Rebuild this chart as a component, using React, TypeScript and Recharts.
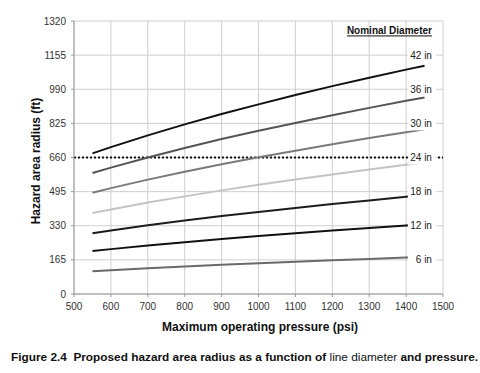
import React from 'react';
import {
  LineChart,
  Line,
  XAxis,
  YAxis,
  CartesianGrid,
  ReferenceLine,
  ReferenceDot,
} from 'recharts';

// Pressure (psi)
const pressures = [550, 600, 700, 800, 900, 1000, 1100, 1200, 1300, 1400, 1450];

// Hazard area radius (ft) per nominal diameter
const d42 = [680, 710, 767, 820, 870, 917, 962, 1005, 1046, 1085, 1104];
const d36 = [585, 611, 660, 706, 749, 789, 827, 864, 900, 934, 950];
const d30 = [490, 512, 553, 591, 627, 661, 693, 724, 754, 782, 796];
const d24 = [392, 409, 442, 472, 501, 528, 554, 578, 602, 625, 636];
const d18 = [294, 307, 332, 355, 377, 397, 416, 435, 452, 470, 478];
const d12 = [208, 217, 234, 250, 266, 280, 294, 307, 319, 331, 337];
const d6 = [110, 115, 124, 133, 141, 149, 156, 163, 169, 176, 179];

const xTicks = [500, 600, 700, 800, 900, 1000, 1100, 1200, 1300, 1400, 1500];
const yTicks = [0, 165, 330, 495, 660, 825, 990, 1155, 1320];

const threshold = 660;

const seriesDefs = [
  { key: 'd42', name: '42 in', values: d42, color: '#111111', labelY: 1155 },
  { key: 'd36', name: '36 in', values: d36, color: '#555555', labelY: 990 },
  { key: 'd30', name: '30 in', values: d30, color: '#7a7a7a', labelY: 825 },
  { key: 'd24', name: '24 in', values: d24, color: '#c4c4c4', labelY: 660 },
  { key: 'd18', name: '18 in', values: d18, color: '#1c1c1c', labelY: 495 },
  { key: 'd12', name: '12 in', values: d12, color: '#111111', labelY: 330 },
  { key: 'd6', name: '6 in', values: d6, color: '#6a6a6a', labelY: 165 },
];

const data = pressures.map((p, i) => {
  const row: Record<string, number> = { p };
  seriesDefs.forEach((s) => {
    row[s.key] = s.values[i];
  });
  return row;
});

const FONT = '"Liberation Sans", Arial, sans-serif';

const DiamLabel = (props: any) => {
  const { viewBox, value } = props;
  const x = viewBox?.x ?? 0;
  const y = viewBox?.y ?? 0;
  return (
    <g>
      <rect x={x - 24} y={y - 7} width={28} height={14} fill="#ffffff" />
      <text
        x={x}
        y={y}
        dy={3.5}
        textAnchor="end"
        fontSize={10}
        fontFamily={FONT}
        fill="#222"
      >
        {value}
      </text>
    </g>
  );
};

const TitleLabel = (props: any) => {
  const { viewBox, value } = props;
  const x = viewBox?.x ?? 0;
  const y = viewBox?.y ?? 0;
  return (
    <text
      x={x}
      y={y}
      dy={3.5}
      textAnchor="end"
      fontSize={10}
      fontWeight="bold"
      fontFamily={FONT}
      fill="#111"
      textDecoration="underline"
      style={{ textDecoration: 'underline' }}
    >
      {value}
    </text>
  );
};

export default function App() {
  return (
    <div
      style={{
        position: 'absolute',
        left: 0,
        top: 0,
        width: 480,
        height: 373,
        background: '#fff',
      }}
    >
      <LineChart
        width={480}
        height={373}
        data={data}
        margin={{ top: 21, right: 37, bottom: 49, left: 0 }}
      >
        <CartesianGrid stroke="#cfcfcf" strokeWidth={1} />
        <XAxis
          dataKey="p"
          type="number"
          domain={[500, 1500]}
          ticks={xTicks}
          height={30}
          stroke="#999"
          tickSize={3}
          tickMargin={6}
          tick={{ fontSize: 10, fill: '#333', fontFamily: FONT }}
          interval={0}
        />
        <YAxis
          type="number"
          domain={[0, 1320]}
          ticks={yTicks}
          width={74}
          stroke="#999"
          tickSize={3}
          tickMargin={5}
          tick={{ fontSize: 10, fill: '#333', fontFamily: FONT }}
          interval={0}
        />
        <ReferenceLine
          y={threshold}
          stroke="#111"
          strokeWidth={2}
          strokeDasharray="2 2"
        />
        {seriesDefs.map((s) => (
          <Line
            key={s.key}
            type="linear"
            dataKey={s.key}
            stroke={s.color}
            strokeWidth={2}
            dot={false}
            isAnimationActive={false}
          />
        ))}
        {seriesDefs.map((s) => (
          <ReferenceDot
            key={'lbl' + s.key}
            x={1470}
            y={s.labelY}
            r={0}
            fill="none"
            stroke="none"
            label={<DiamLabel value={s.name} />}
          />
        ))}
        <ReferenceDot
          x={1470}
          y={1272}
          r={0}
          fill="none"
          stroke="none"
          label={<TitleLabel value="Nominal Diameter" />}
        />
      </LineChart>
      <svg
        width={480}
        height={373}
        style={{ position: 'absolute', left: 0, top: 0, pointerEvents: 'none' }}
      >
        <text
          x={260}
          y={331}
          textAnchor="middle"
          fontSize={12}
          fontWeight="bold"
          fontFamily={FONT}
          fill="#111"
        >
          Maximum operating pressure (psi)
        </text>
        <text
          transform="translate(40,161) rotate(-90)"
          textAnchor="middle"
          fontSize={12}
          fontWeight="bold"
          fontFamily={FONT}
          fill="#111"
        >
          Hazard area radius (ft)
        </text>
        <text
          x={11}
          y={361}
          fontSize={11.5}
          fontFamily={FONT}
          fill="#111"
          textLength={467}
          lengthAdjust="spacingAndGlyphs"
        >
          <tspan fontWeight="bold">{'Figure 2.4\u00a0\u00a0Proposed hazard area radius as a function of '}</tspan>
          <tspan fontWeight="normal">{'line diameter '}</tspan>
          <tspan fontWeight="bold">and pressure.</tspan>
        </text>
      </svg>
    </div>
  );
}
